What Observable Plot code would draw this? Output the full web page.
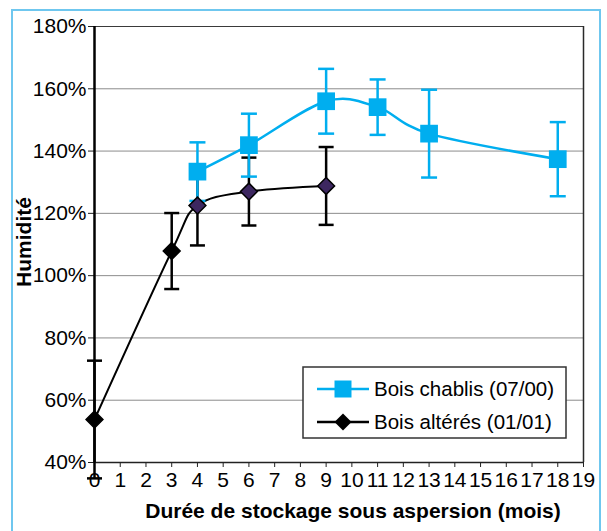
<!DOCTYPE html>
<html><head><meta charset="utf-8">
<script src="https://cdn.jsdelivr.net/npm/d3@7"></script>
<script src="https://cdn.jsdelivr.net/npm/@observablehq/plot@0.6"></script>
<style>
body{margin:0;background:#fff;}
#wrap{position:relative;width:607px;height:531px;overflow:hidden;}
#wrap svg{position:absolute;left:0;top:0;}
#border{position:absolute;left:11px;top:9px;width:590px;height:560px;border:2px solid #6fc7ef;box-sizing:border-box;pointer-events:none;}
#wrap g[aria-label="y-axis tick label"] text, #wrap g[aria-label="x-axis tick label"] text{font-size:21px !important;}
</style></head><body><div id="wrap"><div id="border"></div></div>
<script>
// Bois chablis (07/00)
const chablisMonths = [4, 6, 9, 11, 13, 18];
const chablisValues = [133.4, 141.9, 156.0, 154.1, 145.6, 137.4];
const chablisErrors = [9.4, 10.1, 10.4, 8.9, 14.1, 11.9];
// Bois altérés (01/01)
const alteresMonths = [0, 3, 4, 6, 9];
const alteresValues = [53.8, 107.9, 122.5, 127.0, 128.8];
const alteresErrors = [18.9, 12.2, 12.8, 10.9, 12.5];

const yTicks = [40, 60, 80, 100, 120, 140, 160, 180];
const xTicks = [0,1,2,3,4,5,6,7,8,9,10,11,12,13,14,15,16,17,18,19];
const seriesNames = ["Bois chablis (07/00)", "Bois altérés (01/01)"];
const xLabel = "Durée de stockage sous aspersion (mois)";
const yLabel = "Humidité";

const blue = "#00aeef";
const purple = "#3d2760";
const font = "'Liberation Sans', Arial, sans-serif";

const chablis = chablisMonths.map((m, i) => ({x: m, y: chablisValues[i], e: chablisErrors[i]}));
const alteres = alteresMonths.map((m, i) => ({x: m, y: alteresValues[i], e: alteresErrors[i], i}));

const cap = (w) => ({draw(ctx) { ctx.moveTo(-w, 0); ctx.lineTo(w, 0); }});

const plot = Plot.plot({
  width: 607, height: 531,
  marginLeft: 94, marginRight: 24, marginTop: 26, marginBottom: 69,
  style: {fontFamily: font, fontSize: "21px", background: "transparent", color: "black"},
  x: {domain: [0, 19]},
  y: {domain: [40, 180]},
  marks: [
    Plot.gridY(yTicks.filter(d => d > 40 && d < 180), {stroke: "#8c8c8c", strokeOpacity: 1, strokeWidth: 1}),
    Plot.ruleY([180], {stroke: "#3a3a3a", strokeWidth: 1.2}),
    Plot.ruleX([19], {stroke: "#2a2a2a", strokeWidth: 1.5}),
    Plot.axisY(yTicks, {tickFormat: d => d + "%", tickSize: 6, tickPadding: 2, fontSize: 21, stroke: "#222", label: null}),
    Plot.axisX(xTicks, {tickSize: 5, tickPadding: 5, fontSize: 21, stroke: "#222", label: null}),
    Plot.ruleY([40], {stroke: "#222", strokeWidth: 1.5}),
    Plot.ruleX([0], {stroke: "black", strokeWidth: 2.5}),
    // Bois altérés
    Plot.line(alteres, {x: "x", y: "y", curve: "cardinal", tension: 0, stroke: "black", strokeWidth: 2}),
    Plot.ruleX(alteres, {x: "x", y1: d => d.y - d.e, y2: d => d.y + d.e, stroke: "black", strokeWidth: 2.5}),
    Plot.dot(alteres, {x: "x", y: d => d.y - d.e, symbol: cap(7.5), stroke: "black", strokeWidth: 2.5}),
    Plot.dot(alteres, {x: "x", y: d => d.y + d.e, symbol: cap(7.5), stroke: "black", strokeWidth: 2.5}),
    // Bois chablis
    Plot.line(chablis, {x: "x", y: "y", curve: "cardinal", tension: 0, stroke: blue, strokeWidth: 2.5}),
    Plot.ruleX(chablis, {x: "x", y1: d => d.y - d.e, y2: d => d.y + d.e, stroke: blue, strokeWidth: 2.5}),
    Plot.dot(chablis, {x: "x", y: d => d.y - d.e, symbol: cap(8), stroke: blue, strokeWidth: 2.5}),
    Plot.dot(chablis, {x: "x", y: d => d.y + d.e, symbol: cap(8), stroke: blue, strokeWidth: 2.5}),
    Plot.dot(chablis, {x: "x", y: "y", symbol: "square", r: 10, fill: blue, stroke: "none"}),
    Plot.dot(alteres, {x: "x", y: "y", symbol: "diamond2", r: 7.6, fill: d => d.i < 2 ? "black" : purple, stroke: "black", strokeWidth: 1.5})
  ]
});

document.getElementById("wrap").insertBefore(plot, document.getElementById("border"));

const svg = d3.select(plot);

// Axis titles
const titles = svg.append("g").attr("font-family", font).attr("font-weight", "bold")
  .attr("font-size", 21).attr("fill", "black").attr("text-anchor", "middle");
titles.append("text").attr("x", 353).attr("y", 518).text(xLabel);
titles.append("text").attr("transform", "translate(31,242) rotate(-90)").text(yLabel);

// Legend inside the plot area
const lg = svg.append("g").attr("font-family", font).attr("font-size", 20.5).attr("text-anchor", "start");
lg.append("rect").attr("x", 303).attr("y", 367).attr("width", 263).attr("height", 71)
  .attr("fill", "white").attr("stroke", "#333").attr("stroke-width", 1.5);
const rows = [
  {name: seriesNames[0], color: blue, y: 389, sym: d3.symbolSquare, size: 17 * 17},
  {name: seriesNames[1], color: "black", y: 422, sym: d3.symbolDiamond2, size: Math.pow(17 / 1.2525, 2)}
];
rows.forEach(r => {
  lg.append("line").attr("x1", 317).attr("x2", 369).attr("y1", r.y).attr("y2", r.y)
    .attr("stroke", r.color).attr("stroke-width", 2.5);
  lg.append("path").attr("d", d3.symbol(r.sym, r.size)()).attr("transform", `translate(343,${r.y})`)
    .attr("fill", r.color);
  lg.append("text").attr("x", 374).attr("y", r.y).attr("dy", "0.36em").attr("fill", "black")
    .attr("text-anchor", "start").text(r.name);
});
</script>
</body></html>
